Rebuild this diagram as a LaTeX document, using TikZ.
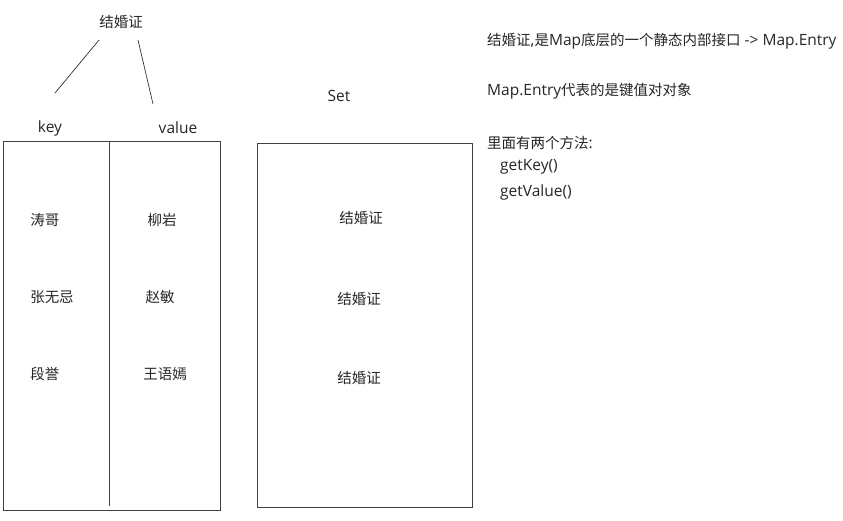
\documentclass[tikz,border=0pt]{standalone}
\usepackage{fontspec}
\setmainfont{Open Sans}
\newfontfamily\cjkf{Noto Sans CJK SC}
\newcommand{\zh}[1]{{\cjkf\fontsize{14.5}{17}\selectfont #1}}
\begin{document}
\begin{tikzpicture}[x=1pt,y=-1pt,
  lbl/.style={inner sep=0pt,font=\fontsize{15.5}{17}\selectfont,text=black!85},
  txt/.style={inner sep=0pt,anchor=west,font=\fontsize{15.5}{17}\selectfont,text=black!85},
  box/.style={draw=black!75,line width=0.9pt},
  ln/.style={draw=black!80,line width=0.7pt}]
\useasboundingbox[fill=white] (0,0) rectangle (843,520);
% title and legs
\node[lbl] (cert) at (121,22) {\zh{结婚证}};
\coordinate (l1) at (99,40); \coordinate (l2) at (55,93);
\coordinate (r1) at (138,40); \coordinate (r2) at (153,104);
\draw[ln] (l1) -- (l2);
\draw[ln] (r1) -- (r2);
\node[lbl] (key) at (50,128) {key};
\node[lbl] (value) at (178,128) {value};
% map box
\coordinate (m1) at (3,141); \coordinate (m2) at (220,510);
\draw[box] (m1) rectangle (m2);
\coordinate (d1) at (109,141); \coordinate (d2) at (109,506);
\draw[box] (d1) -- (d2);
\node[lbl] (k1) at (45,220) {\zh{涛哥}};
\node[lbl] (k2) at (52,297) {\zh{张无忌}};
\node[lbl] (k3) at (45,374) {\zh{段誉}};
\node[lbl] (v1) at (162,220) {\zh{柳岩}};
\node[lbl] (v2) at (160,297) {\zh{赵敏}};
\node[lbl] (v3) at (165,374) {\zh{王语嫣}};
% set box
\node[lbl] (set) at (339,96) {Set};
\coordinate (s1) at (257,143); \coordinate (s2) at (472,507);
\draw[box] (s1) rectangle (s2);
\node[lbl] (e1) at (361,218) {\zh{结婚证}};
\node[lbl] (e2) at (359,299) {\zh{结婚证}};
\node[lbl] (e3) at (359,378) {\zh{结婚证}};
% notes
\node[txt] (n1) at (487,41) {\zh{结婚证},\zh{是}Map\zh{底层的一个静态内部接口} -> Map.Entry};
\node[txt] (n2) at (487,91) {Map.Entry\zh{代表的是键值对对象}};
\node[txt] (n3) at (487,143) {\zh{里面有两个方法}:};
\node[txt] (n4) at (500,167) {getKey()};
\node[txt] (n5) at (500,192) {getValue()};
\end{tikzpicture}
\end{document}
